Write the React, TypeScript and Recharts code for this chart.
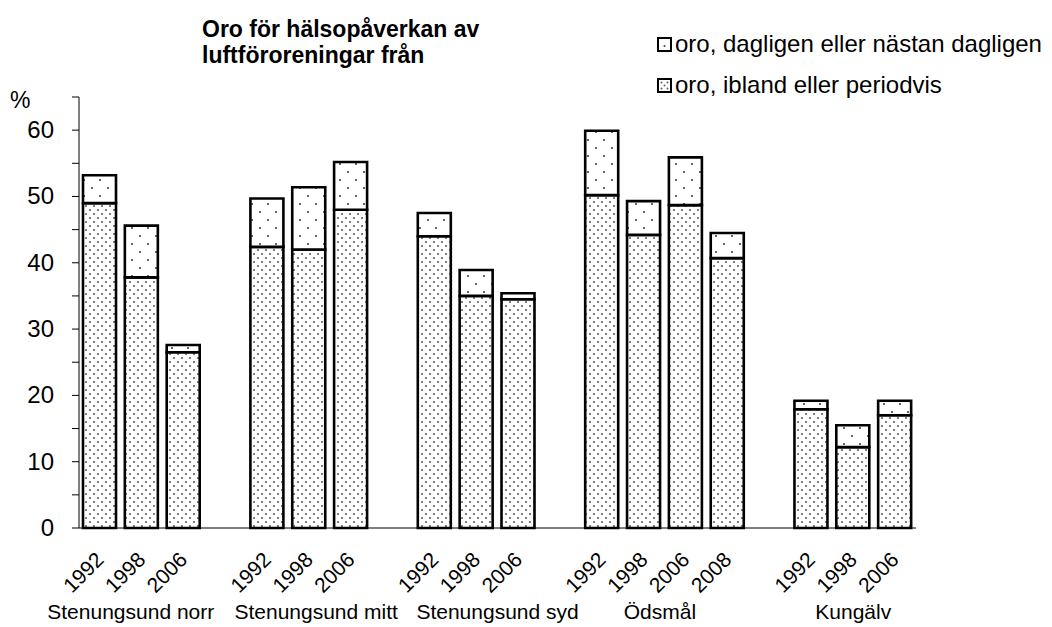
import React from "react";
import { BarChart, Bar, XAxis, YAxis } from "recharts";

const groups = ["Stenungsund norr", "Stenungsund mitt", "Stenungsund syd", "Ödsmål", "Kungälv"];
const years = [
  ["1992", "1998", "2006"],
  ["1992", "1998", "2006"],
  ["1992", "1998", "2006"],
  ["1992", "1998", "2006", "2008"],
  ["1992", "1998", "2006"],
];
// oro, ibland eller periodvis (bottom part)
const periodvis = [
  [49.0, 37.8, 26.5],
  [42.4, 42.0, 48.0],
  [44.0, 35.0, 34.5],
  [50.2, 44.2, 48.7, 40.7],
  [17.9, 12.2, 17.0],
];
// oro, dagligen eller nästan dagligen (top part)
const dagligen = [
  [4.2, 7.8, 1.1],
  [7.3, 9.4, 7.2],
  [3.5, 3.9, 0.9],
  [9.7, 5.1, 7.2, 3.8],
  [1.3, 3.3, 2.2],
];
const yTicks = [0, 5, 10, 15, 20, 25, 30, 35, 40, 45, 50, 55, 60, 65];

const W = 1052;
const H = 627;
const LEFT = 79;
const RIGHT = 136;
const PLOT_W = W - LEFT - RIGHT;
const FONT = "'Liberation Sans', Arial, sans-serif";
// small horizontal nudges of the group captions, as placed in the original
const captionNudge = [-11, 7, 21, -5, 0];

type Row = { key: string; year: string; group: number; first: boolean; periodvis?: number; dagligen?: number };
const rows: Row[] = [];
groups.forEach((g, gi) => {
  years[gi].forEach((yr, i) =>
    rows.push({ key: `${gi}-${yr}`, year: yr, group: gi, first: i === 0, periodvis: periodvis[gi][i], dagligen: dagligen[gi][i] })
  );
  if (gi < groups.length - 1) rows.push({ key: `gap-${gi}`, year: "", group: -1, first: false });
});

function YearTick(props: any) {
  const { x, y, payload } = props;
  const row = rows.find((r) => r.key === payload.value);
  if (!row || !row.year) return null;
  const band = PLOT_W / rows.length;
  const n = years[row.group].length;
  const tx = x + 5;
  const ty = y + 33;
  return (
    <g>
      <text x={tx} y={ty} transform={`rotate(-45 ${tx} ${ty})`} textAnchor="end" fontSize={21} fill="#000" fontFamily={FONT}>
        {row.year}
      </text>
      {row.first && (
        <text x={x + ((n - 1) / 2) * band + captionNudge[row.group]} y={y + 91} textAnchor="middle" fontSize={21} fill="#000" fontFamily={FONT}>
          {groups[row.group]}
        </text>
      )}
    </g>
  );
}

function ValueTick(props: any) {
  const { x, y, payload } = props;
  if (payload.value % 10 !== 0) return null;
  return (
    <text x={x} y={y + 8} textAnchor="end" fontSize={24} fill="#000" fontFamily={FONT}>
      {payload.value}
    </text>
  );
}

export default function App() {
  return (
    <div style={{ position: "absolute", left: 0, top: 0, width: W, height: H, background: "#fff" }}>
      <BarChart width={W} height={H} data={rows} margin={{ top: 97, right: RIGHT, bottom: 0, left: 0 }} barSize={33}>
        <defs>
          <pattern id="dense" width="8" height="8" patternUnits="userSpaceOnUse">
            <rect width="8" height="8" fill="#fff" />
            <circle cx="2" cy="2" r="1" fill="#555" />
            <circle cx="6" cy="6" r="1" fill="#555" />
          </pattern>
          <pattern id="sparse" width="16" height="16" patternUnits="userSpaceOnUse">
            <rect width="16" height="16" fill="#fff" />
            <circle cx="4" cy="4" r="1.1" fill="#404040" />
            <circle cx="12" cy="12" r="1.1" fill="#404040" />
          </pattern>
        </defs>
        <XAxis
          dataKey="key"
          interval={0}
          tickLine={false}
          tickSize={0}
          tickMargin={0}
          height={99}
          axisLine={{ stroke: "#000", strokeWidth: 1 }}
          tick={<YearTick />}
        />
        <YAxis
          width={LEFT}
          domain={[0, 65]}
          ticks={yTicks}
          interval={0}
          tickSize={7}
          tickMargin={18}
          axisLine={{ stroke: "#000", strokeWidth: 1 }}
          tickLine={{ stroke: "#000", strokeWidth: 1 }}
          tick={<ValueTick />}
        />
        <Bar dataKey="periodvis" stackId="a" fill="url(#dense)" stroke="#000" strokeWidth={2.6} isAnimationActive={false} />
        <Bar dataKey="dagligen" stackId="a" fill="url(#sparse)" stroke="#000" strokeWidth={2.6} isAnimationActive={false} />
      </BarChart>
      <svg width={W} height={H} style={{ position: "absolute", left: 0, top: 0, pointerEvents: "none" }}>
        <text x={202} y={37} fontSize={23} fontWeight="bold" fontFamily={FONT} fill="#000">
          Oro för hälsopåverkan av
        </text>
        <text x={202} y={63} fontSize={23} fontWeight="bold" fontFamily={FONT} fill="#000">
          luftföroreningar från
        </text>
        <text x={10} y={108} fontSize={23} fontFamily={FONT} fill="#000">
          %
        </text>
        <rect x={658} y={38} width={13} height={13} fill="#fff" stroke="#000" strokeWidth={2} />
        <circle cx={664.5} cy={46} r={1} fill="#404040" />
        <text x={675} y={52} fontSize={24} fontFamily={FONT} fill="#000">
          oro, dagligen eller nästan dagligen
        </text>
        <rect x={658} y={79} width={13} height={13} fill="#fff" stroke="#000" strokeWidth={2} />
        <circle cx={661.5} cy={82.5} r={1} fill="#606060" />
        <circle cx={667.5} cy={82.5} r={1} fill="#606060" />
        <circle cx={664.5} cy={85.5} r={1} fill="#606060" />
        <circle cx={661.5} cy={88.5} r={1} fill="#606060" />
        <circle cx={667.5} cy={88.5} r={1} fill="#606060" />
        <text x={675} y={93} fontSize={24} fontFamily={FONT} fill="#000">
          oro, ibland eller periodvis
        </text>
      </svg>
    </div>
  );
}
